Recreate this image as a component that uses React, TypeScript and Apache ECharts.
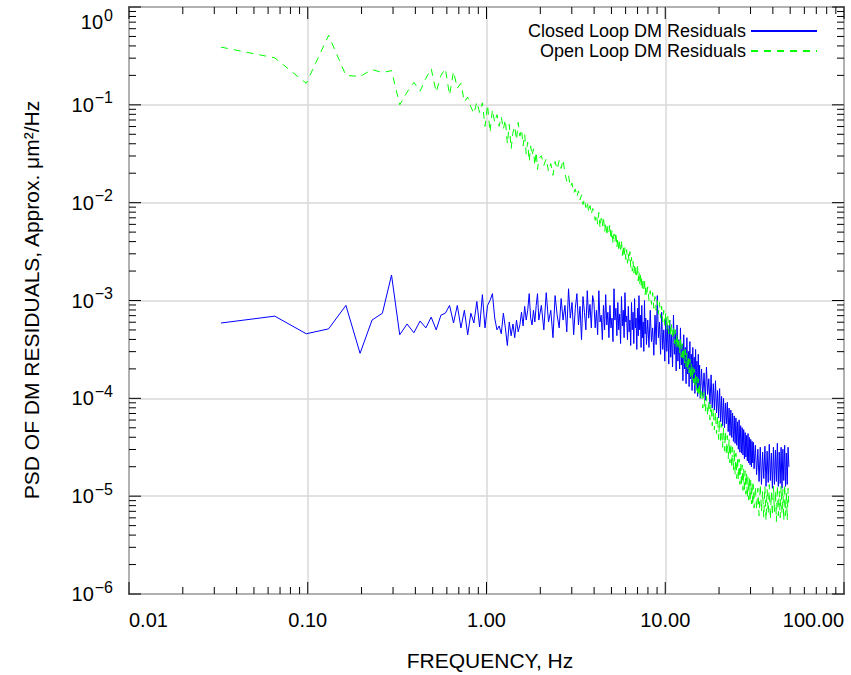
import React, { useEffect, useRef } from "react";
import * as echarts from "echarts";

const FONT = '"Liberation Sans", Arial, Helvetica, sans-serif';

const SERIES_NAMES = ["Closed Loop DM Residuals", "Open Loop DM Residuals"];
const X_TITLE = "FREQUENCY, Hz";
const Y_TITLE = "PSD OF DM RESIDUALS, Approx. \u03bcm\u00b2/Hz";

// FFT bin width (Hz) and the bins that are plotted: [first, last, step]
const BIN_WIDTH_HZ = 0.0327;
const BIN_SEGMENTS = [
  [1, 60, 1],
  [62, 120, 2],
  [122, 240, 2],
  [244, 480, 4],
  [488, 960, 8],
  [976, 1504, 16],
];

// log10 of PSD, one value per plotted bin
const CLOSED_LOG10 = [
  // bins 1-60
  -3.23, -3.16, -3.34, -3.29, -3.05, -3.54, -3.2, -3.13, -2.74, -3.35,
  -3.24, -3.33, -3.21, -3.28, -3.17, -3.3, -3.15, -3.13, -3.05, -3.23,
  -3.05, -3.28, -3.1, -3.35, -3.13, -3.23, -3.01, -3.27, -2.94, -3.28,
  -3.05, -3.0, -2.93, -3.18, -3.3, -3.26, -3.34, -3.13, -3.28, -3.46,
  -3.22, -3.36, -3.24, -3.38, -3.2, -3.32, -3.25, -3.12, -3.26, -3.06,
  -3.2, -3.1, -2.93, -3.18, -3.25, -3.1, -3.22, -3.05, -2.93, -3.2,
  // bins 62-120
  -3.05, -3.3, -2.92, -3.22, -3.1, -3.38, -2.95, -3.15, -3.28, -2.98,
  -3.2, -3.05, -3.32, -2.88, -3.18, -3.02, -3.35, -3.08, -2.93, -3.25,
  -3.06, -3.4, -2.96, -3.12, -3.3, -2.9, -3.18, -3.04, -3.28, -2.95,
  // bins 122-240
  -3.02, -3.28, -3.1, -3.35, -2.9, -3.22, -3.15, -3.4, -3.05, -3.3,
  -2.94, -3.25, -3.12, -3.38, -3.05, -3.28, -3.18, -3.42, -2.88, -3.2,
  -3.08, -3.36, -3.02, -3.3, -3.14, -3.44, -2.96, -3.26, -3.1, -3.38,
  -2.92, -3.22, -3.16, -3.4, -3.06, -3.32, -3.2, -3.46, -3.02, -3.3,
  -3.12, -3.44, -2.98, -3.28, -3.18, -3.5, -3.08, -3.36, -2.95, -3.3,
  -3.15, -3.48, -3.05, -3.38, -3.22, -3.52, -3.0, -3.34, -3.18, -3.45,
  // bins 244-480
  -3.2, -3.48, -3.1, -3.42, -3.28, -3.56, -3.15, -3.45, -2.95, -3.38,
  -3.22, -3.55, -3.12, -3.5, -3.3, -3.62, -3.18, -3.52, -3.25, -3.65,
  -3.2, -3.58, -3.35, -3.68, -3.15, -3.55, -3.3, -3.72, -3.25, -3.62,
  -3.4, -3.7, -3.28, -3.66, -3.45, -3.82, -3.35, -3.7, -3.48, -3.85,
  -3.38, -3.75, -3.52, -3.88, -3.42, -3.8, -3.55, -3.92, -3.48, -3.84,
  -3.58, -3.95, -3.5, -3.86, -3.62, -3.98, -3.55, -3.9, -3.66, -4.0,
  // bins 488-960
  -3.7, -3.98, -3.74, -4.02, -3.68, -3.96, -3.8, -4.06, -3.76, -4.1,
  -3.85, -4.12, -3.82, -4.15, -3.92, -4.2, -3.9, -4.24, -3.98, -4.28,
  -4.0, -4.3, -4.05, -4.26, -4.04, -4.34, -4.1, -4.38, -4.12, -4.4,
  -4.15, -4.44, -4.18, -4.46, -4.2, -4.48, -4.24, -4.52, -4.22, -4.55,
  -4.28, -4.56, -4.3, -4.58, -4.32, -4.62, -4.35, -4.6, -4.38, -4.64,
  -4.36, -4.66, -4.4, -4.68, -4.42, -4.7, -4.44, -4.66, -4.45, -4.72,
  // bins 976-1504
  -4.48, -4.78, -4.52, -4.85, -4.5, -4.88, -4.55, -4.82, -4.49, -4.9,
  -4.54, -4.86, -4.47, -4.84, -4.56, -4.92, -4.5, -4.88, -4.53, -4.85,
  -4.46, -4.9, -4.55, -4.87, -4.5, -4.92, -4.52, -4.84, -4.48, -4.9,
  -4.56, -4.88, -4.5, -4.7,
];

const OPEN_LOG10 = [
  // bins 1-60
  -0.41, -0.52, -0.78, -0.29, -0.7, -0.71, -0.64, -0.67, -0.65, -1.0,
  -0.87, -0.77, -0.86, -0.73, -0.63, -0.87, -0.7, -0.63, -0.9, -0.66,
  -0.83, -0.78, -0.97, -0.92, -1.02, -1.09, -0.97, -1.08, -0.98, -1.22,
  -1.0, -1.28, -1.05, -1.18, -1.1, -1.22, -1.12, -1.25, -1.15, -1.4,
  -1.2, -1.45, -1.28, -1.22, -1.36, -1.18, -1.32, -1.25, -1.42, -1.3,
  -1.5, -1.38, -1.58, -1.42, -1.52, -1.45, -1.62, -1.48, -1.66, -1.55,
  // bins 62-120
  -1.52, -1.62, -1.55, -1.68, -1.6, -1.72, -1.58, -1.66, -1.57, -1.65,
  -1.56, -1.7, -1.78, -1.72, -1.84, -1.8, -1.9, -1.86, -1.94, -1.88,
  -1.97, -1.92, -2.02, -1.96, -2.05, -1.99, -2.1, -2.03, -2.12, -2.06,
  // bins 122-240
  -2.08, -2.18, -2.12, -2.22, -2.1, -2.26, -2.16, -2.24, -2.14, -2.3,
  -2.2, -2.34, -2.24, -2.3, -2.22, -2.38, -2.28, -2.42, -2.32, -2.4,
  -2.3, -2.46, -2.36, -2.5, -2.4, -2.48, -2.38, -2.54, -2.44, -2.56,
  -2.46, -2.58, -2.48, -2.62, -2.52, -2.6, -2.5, -2.66, -2.56, -2.7,
  -2.6, -2.72, -2.62, -2.76, -2.66, -2.74, -2.64, -2.8, -2.7, -2.84,
  -2.72, -2.86, -2.76, -2.9, -2.8, -2.88, -2.78, -2.94, -2.84, -2.96,
  // bins 244-480
  -2.86, -3.0, -2.9, -3.04, -2.92, -3.08, -2.96, -3.1, -3.0, -3.14,
  -3.02, -3.18, -3.06, -3.22, -3.1, -3.26, -3.12, -3.3, -3.16, -3.34,
  -3.2, -3.36, -3.24, -3.4, -3.26, -3.44, -3.3, -3.48, -3.34, -3.5,
  -3.38, -3.54, -3.4, -3.58, -3.44, -3.62, -3.48, -3.64, -3.5, -3.68,
  -3.54, -3.72, -3.58, -3.74, -3.6, -3.78, -3.64, -3.82, -3.68, -3.84,
  -3.7, -3.88, -3.74, -3.92, -3.78, -3.94, -3.8, -3.98, -3.84, -4.0,
  // bins 488-960
  -3.9, -4.1, -3.94, -4.14, -3.98, -4.18, -4.02, -4.22, -4.06, -4.28,
  -4.1, -4.32, -4.14, -4.36, -4.18, -4.42, -4.22, -4.46, -4.26, -4.5,
  -4.3, -4.54, -4.34, -4.58, -4.38, -4.62, -4.42, -4.66, -4.46, -4.7,
  -4.5, -4.74, -4.52, -4.78, -4.56, -4.82, -4.6, -4.84, -4.62, -4.88,
  -4.66, -4.9, -4.68, -4.94, -4.72, -4.96, -4.74, -4.98, -4.76, -5.02,
  -4.8, -5.04, -4.82, -5.06, -4.84, -5.08, -4.86, -5.1, -4.88, -5.12,
  // bins 976-1504
  -4.9, -5.14, -4.92, -5.2, -4.88, -5.16, -4.95, -5.22, -4.9, -5.25,
  -4.93, -5.18, -4.88, -5.24, -4.96, -5.2, -4.9, -5.16, -4.94, -5.26,
  -4.89, -5.2, -4.95, -5.22, -4.9, -5.18, -4.93, -5.25, -4.88, -5.2,
  -4.96, -5.24, -4.92, -5.1,
];

const X_MIN = 0.01;
const X_MAX = 100;
const Y_MIN = 1e-6;
const Y_MAX = 1;
const X_MAJOR_TICKS = [0.01, 0.1, 1, 10, 100];
const Y_MAJOR_TICKS = [1e-6, 1e-5, 1e-4, 1e-3, 1e-2, 1e-1, 1];
const MINOR_MULTIPLIERS = [2, 3, 4, 5, 6, 7, 8, 9];

function buildBins(): number[] {
  const bins: number[] = [];
  BIN_SEGMENTS.forEach(([a, b, s]) => {
    for (let k = a; k <= b; k += s) bins.push(k);
  });
  return bins;
}

export default function App() {
  const ref = useRef<HTMLDivElement>(null);

  useEffect(() => {
    if (!ref.current) return;
    const chart = echarts.init(ref.current, undefined, { renderer: "svg" });

    const freqs = buildBins().map((k) => k * BIN_WIDTH_HZ);
    const n = Math.min(freqs.length, CLOSED_LOG10.length, OPEN_LOG10.length);
    const closed = CLOSED_LOG10.slice(0, n).map((v, i) => [freqs[i], Math.pow(10, v)]);
    const open = OPEN_LOG10.slice(0, n).map((v, i) => [freqs[i], Math.pow(10, v)]);

    // tick marks (kind: 0 x-minor, 1 x-major, 2 y-minor, 3 y-major)
    const ticks: number[][] = [];
    X_MAJOR_TICKS.forEach((v, i) => {
      ticks.push([v, 1e-3, 1]);
      if (i < X_MAJOR_TICKS.length - 1)
        MINOR_MULTIPLIERS.forEach((m) => ticks.push([v * m, 1e-3, 0]));
    });
    Y_MAJOR_TICKS.forEach((v, i) => {
      ticks.push([1, v, 3]);
      if (i < Y_MAJOR_TICKS.length - 1)
        MINOR_MULTIPLIERS.forEach((m) => ticks.push([1, v * m, 2]));
    });

    const textBase = { fontFamily: FONT, color: "#000" };
    const legendCommon = {
      right: 33,
      orient: "horizontal",
      align: "right",
      itemWidth: 66,
      itemHeight: 18,
      padding: 0,
      itemGap: 0,
      selectedMode: false,
      itemStyle: { opacity: 0 },
      textStyle: { ...textBase, fontSize: 18 },
    };

    const option: any = {
      animation: false,
      backgroundColor: "#ffffff",
      grid: {
        left: 129,
        right: 7,
        top: 7,
        bottom: 81,
        containLabel: false,
        outerBoundsMode: "none",
        show: true,
        borderColor: "#000",
        borderWidth: 1.5,
        backgroundColor: "transparent",
      },
      legend: [
        { ...legendCommon, top: 22, data: [SERIES_NAMES[0]] },
        { ...legendCommon, top: 42, data: [SERIES_NAMES[1]] },
      ],
      xAxis: {
        type: "log",
        logBase: 10,
        min: X_MIN,
        max: X_MAX,
        axisLine: { show: false },
        axisTick: { show: false },
        splitLine: { show: true, lineStyle: { color: "#d9d9d9", width: 1.5 } },
        axisLabel: {
          ...textBase,
          fontSize: 20,
          margin: 16,
          showMinLabel: true,
          showMaxLabel: true,
          alignMinLabel: "left",
          alignMaxLabel: "right",
          formatter: (v: number) => v.toFixed(2),
        },
      },
      yAxis: {
        type: "log",
        logBase: 10,
        min: Y_MIN,
        max: Y_MAX,
        axisLine: { show: false },
        axisTick: { show: false },
        splitLine: { show: true, lineStyle: { color: "#d9d9d9", width: 1.5 } },
        axisLabel: {
          ...textBase,
          fontSize: 20,
          margin: 16,
          showMinLabel: true,
          showMaxLabel: true,
          verticalAlignMaxLabel: "top",
          formatter: (v: number) => {
            const e = Math.round(Math.log10(v));
            const s = e < 0 ? "\u2212" + -e : String(e);
            return "{b|10}{s|" + s + "}";
          },
          rich: {
            b: { ...textBase, fontSize: 20 },
            s: { ...textBase, fontSize: 16, padding: [0, 0, 14, 1] },
          },
        },
      },
      series: [
        {
          name: SERIES_NAMES[0],
          type: "line",
          data: closed,
          symbol: "none",
          showSymbol: false,
          lineStyle: { color: "#0000ff", width: 1 },
          itemStyle: { color: "#0000ff" },
          z: 2,
        },
        {
          name: SERIES_NAMES[1],
          type: "line",
          data: open,
          symbol: "none",
          showSymbol: false,
          lineStyle: { color: "#00ff00", width: 1, type: [7, 6] },
          itemStyle: { color: "#00ff00" },
          z: 3,
        },
        {
          name: "ticks",
          type: "custom",
          silent: true,
          z: 10,
          data: ticks,
          encode: { x: 0, y: 1 },
          renderItem: (params: any, api: any) => {
            const cs = params.coordSys;
            const kind = api.value(2);
            const major = kind === 1 || kind === 3;
            const len = major ? 12 : 7;
            const style = { stroke: "#000", lineWidth: 1 };
            if (kind < 2) {
              const px = api.coord([api.value(0), 1e-3])[0];
              const yb = cs.y + cs.height;
              const yt = cs.y;
              return {
                type: "group",
                children: [
                  { type: "line", shape: { x1: px, y1: yb, x2: px, y2: yb - len }, style },
                  { type: "line", shape: { x1: px, y1: yt, x2: px, y2: yt + len }, style },
                ],
              };
            }
            const py = api.coord([1, api.value(1)])[1];
            const xl = cs.x;
            const xr = cs.x + cs.width;
            return {
              type: "group",
              children: [
                { type: "line", shape: { x1: xl, y1: py, x2: xl + len, y2: py }, style },
                { type: "line", shape: { x1: xr, y1: py, x2: xr - len, y2: py }, style },
              ],
            };
          },
        },
      ],
      graphic: [
        {
          type: "text",
          x: 31,
          y: 300,
          rotation: Math.PI / 2,
          style: {
            text: Y_TITLE,
            fontSize: 21,
            fontFamily: FONT,
            fill: "#000",
            align: "center",
            verticalAlign: "middle",
            textAlign: "center",
            textVerticalAlign: "middle",
          },
        },
        {
          type: "text",
          x: 490,
          y: 660,
          style: {
            text: X_TITLE,
            fontSize: 21,
            fontFamily: FONT,
            fill: "#000",
            align: "center",
            verticalAlign: "middle",
            textAlign: "center",
            textVerticalAlign: "middle",
          },
        },
      ],
    };

    chart.setOption(option);
    return () => chart.dispose();
  }, []);

  return (
    <div
      ref={ref}
      style={{
        position: "absolute",
        left: 0,
        top: 0,
        width: 851,
        height: 675,
        background: "#fff",
      }}
    />
  );
}
